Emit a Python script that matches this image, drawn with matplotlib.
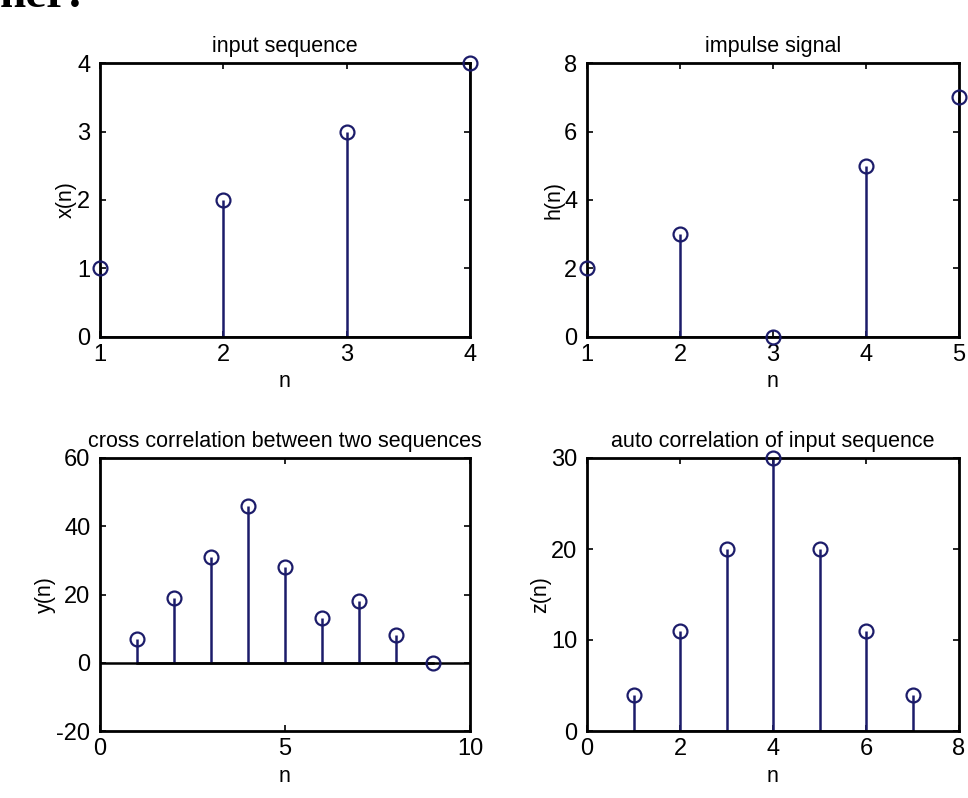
import numpy as np
import matplotlib
matplotlib.use('Agg')
import matplotlib.pyplot as plt

plt.rcParams['font.family'] = ['Liberation Sans', 'DejaVu Sans']
plt.rcParams['axes.unicode_minus'] = False

# data
x = [1, 2, 3, 4]
h = [2, 3, 0, 5, 7]
y = [7, 19, 31, 46, 28, 13, 18, 8, 0]   # xcorr(x,h)
z = [4, 11, 20, 30, 20, 11, 4]          # xcorr(x)

n_x = [1, 2, 3, 4]
n_h = [1, 2, 3, 4, 5]
n_y = [1, 2, 3, 4, 5, 6, 7, 8, 9]
n_z = [1, 2, 3, 4, 5, 6, 7]

stem_col = '#1c1c6a'

fig = plt.figure(figsize=(9.68, 7.98), dpi=100)
fig.patch.set_facecolor('white')

W, H = 968.0, 798.0
def pos(l, t, r, b):
    return [l / W, 1 - b / H, (r - l) / W, (b - t) / H]

panels = [
    (pos(100, 63, 470, 337), n_x, x, 'input sequence', 'x(n)', (1, 4), [1, 2, 3, 4], (0, 4), [0, 1, 2, 3, 4]),
    (pos(587, 63, 959, 337), n_h, h, 'impulse signal', 'h(n)', (1, 5), [1, 2, 3, 4, 5], (0, 8), [0, 2, 4, 6, 8]),
    (pos(100, 458, 470, 731), n_y, y, 'cross correlation between two sequences', 'y(n)', (0, 10), [0, 5, 10], (-20, 60), [-20, 0, 20, 40, 60]),
    (pos(587, 458, 959, 731), n_z, z, 'auto correlation of input sequence', 'z(n)', (0, 8), [0, 2, 4, 6, 8], (0, 30), [0, 10, 20, 30]),
]

for p, nn, vals, title, ylab, xl, xt, yl, yt in panels:
    ax = fig.add_axes(p)
    ml, sl, bl = ax.stem(nn, vals, linefmt='-', markerfmt='o', basefmt='k-')
    plt.setp(sl, color=stem_col, linewidth=1.8)
    plt.setp(ml, markerfacecolor='none', markeredgecolor=stem_col,
             markersize=10, markeredgewidth=1.6, clip_on=False, zorder=5)
    plt.setp(bl, color='black', linewidth=1.8)
    ax.set_xlim(*xl)
    ax.set_ylim(*yl)
    ax.set_xticks(xt)
    ax.set_yticks(yt)
    ax.set_title(title, fontsize=15.5, pad=8)
    ax.set_xlabel('n', fontsize=15.5, labelpad=4)
    ax.set_ylabel(ylab, fontsize=15.5, labelpad=0)
    ax.tick_params(direction='in', top=True, right=True, length=4, width=1.2,
                   labelsize=17, pad=5)
    ax.tick_params(axis='y', pad=7)
    for s in ax.spines.values():
        s.set_linewidth(2)
    if yl[0] < 0:
        ax.axhline(0, color='black', linewidth=1.8, zorder=1)

# cropped heading from the page above the figure (only its lower part shows)
fig.text(0.0, 1 - 7 / H, 'ner:', fontsize=34, fontweight='bold', family='Liberation Serif',
         va='baseline', ha='left')

fig.savefig('out.png', dpi=100, facecolor='white')
